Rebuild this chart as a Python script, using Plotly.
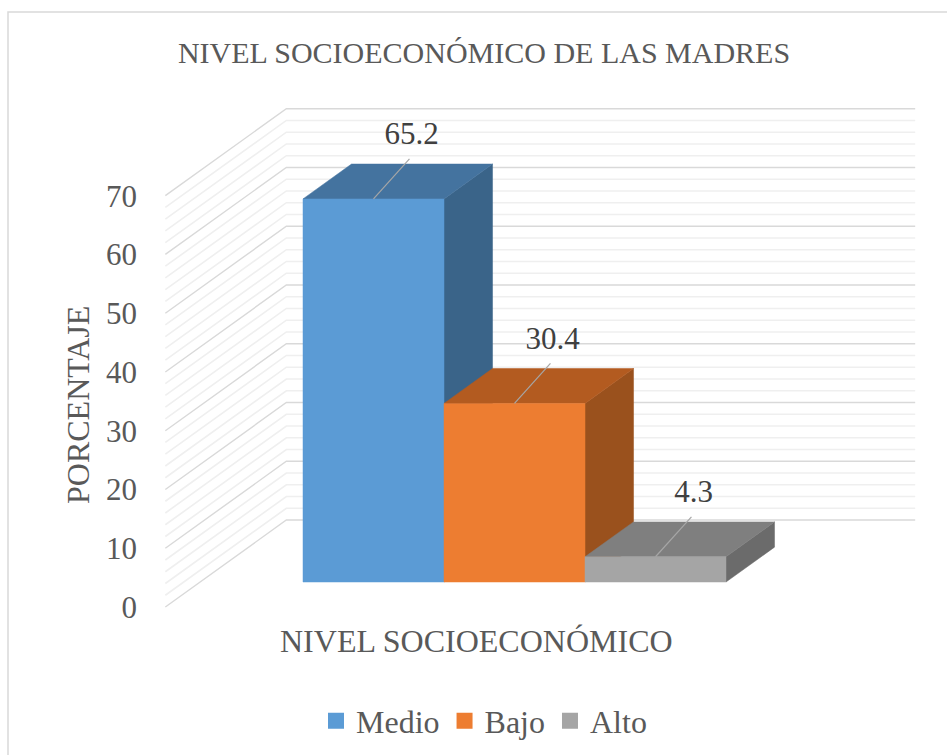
import plotly.graph_objects as go

# ---------------- data ----------------
categories = ["Medio", "Bajo", "Alto"]
values = [65.2, 30.4, 4.3]
value_labels = ["65.2", "30.4", "4.3"]
y_ticks = [0, 10, 20, 30, 40, 50, 60, 70]
y_tick_labels = ["0", "10", "20", "30", "40", "50", "60", "70"]
chart_title = "NIVEL SOCIOECONÓMICO DE LAS MADRES"
x_title = "NIVEL SOCIOECONÓMICO"
y_title = "PORCENTAJE"

# ---------------- style ----------------
front_colors = ["#5B9BD5", "#ED7D31", "#A5A5A5"]
top_colors = ["#44739F", "#B35B20", "#7F7F7F"]
side_colors = ["#3A6489", "#9A511D", "#6B6B6B"]
TEXT = "#595959"
FONT = "Liberation Serif, Times New Roman, serif"

W, H = 947, 755
PX_X = 141.0      # pixels per category unit
PX_Y = 5.876      # pixels per percent unit
X0_PX = 303       # pixel column of first bar's front-left edge
Y0_PX = 607       # pixel row of front-plane zero
DX = 121 / PX_X   # depth offset (x) in category units
DY = 87 / PX_Y    # depth offset (y) in percent units
D0, D1 = 0.287, 0.688   # bar depth span (fraction of floor depth)
GAP = 0.73
Y_MAX = 70
MAJOR, MINOR = 10, 2
PL, PR, PT, PB = 150, 930, 95, 645   # plot area in pixels


def proj(x, v, d):
    return (x + DX * (d - D0), v + DY * d)


def px2paper(px, py):
    return ((px - PL) / (PR - PL), (PB - py) / (PB - PT))


fig = go.Figure()

# ---------- wall gridlines ----------
n = len(categories)
for major in (False, True):
    xs, ys = [], []
    for v in range(0, Y_MAX + 1, MINOR):
        if (v % MAJOR == 0) != major:
            continue
        for p in (proj(-GAP, v, 0), proj(-GAP, v, 1), proj(n + GAP, v, 1)):
            xs.append(p[0]); ys.append(p[1])
        xs.append(None); ys.append(None)
    fig.add_trace(go.Scatter(
        x=xs, y=ys, mode="lines", hoverinfo="skip", showlegend=False,
        line=dict(color="#D9D9D9" if major else "#EFEFEF", width=1.4 if major else 1.6)))

# ---------- 3D bars ----------
def poly(pts, color):
    xs = [p[0] for p in pts] + [pts[0][0]]
    ys = [p[1] for p in pts] + [pts[0][1]]
    fig.add_trace(go.Scatter(
        x=xs, y=ys, mode="lines", fill="toself", fillcolor=color,
        line=dict(color=color, width=0.5), hoverinfo="skip", showlegend=False))

for i, (cat, v) in enumerate(zip(categories, values)):
    side = [proj(i + 1, 0, D0), proj(i + 1, 0, D1), proj(i + 1, v, D1), proj(i + 1, v, D0)]
    top = [proj(i, v, D0), proj(i + 1, v, D0), proj(i + 1, v, D1), proj(i, v, D1)]
    front = [proj(i, 0, D0), proj(i + 1, 0, D0), proj(i + 1, v, D0), proj(i, v, D0)]
    poly(side, side_colors[i])
    poly(top, top_colors[i])
    poly(front, front_colors[i])

# ---------- data labels with leader lines ----------
LX, LY = 0.255, 6.8
TX, TY = 0.27, 10.6
for i, (v, lab) in enumerate(zip(values, value_labels)):
    sx, sy = proj(i + 0.5, v, D0)
    fig.add_trace(go.Scatter(
        x=[sx, sx + LX], y=[sy, sy + LY], mode="lines", hoverinfo="skip",
        showlegend=False, line=dict(color="#A6A6A6", width=1.2)))
    fig.add_trace(go.Scatter(
        x=[sx + TX], y=[sy + TY], mode="text", text=[lab], textposition="middle center",
        textfont=dict(family=FONT, size=31, color="#404040"),
        hoverinfo="skip", showlegend=False))

# ---------- legend entries ----------
for cat, c in zip(categories, front_colors):
    fig.add_trace(go.Scatter(
        x=[None], y=[None], mode="markers", name=cat,
        marker=dict(symbol="square", size=16, color=c)))

# ---------- layout ----------
lx, ly = px2paper(484, 721)
xt, yt = px2paper(476, 641)
yx, yy = px2paper(78, 405)
b0 = px2paper(8, 12)
b1 = px2paper(985, 775)

fig.update_layout(
    width=W, height=H,
    margin=dict(l=PL, r=W - PR, t=PT, b=H - PB, autoexpand=False),
    paper_bgcolor="white", plot_bgcolor="white",
    font=dict(family=FONT, color=TEXT),
    title=dict(text=chart_title, x=484 / W, y=1 - 52 / H, xref="container", yref="container",
               xanchor="center", yanchor="middle",
               font=dict(family=FONT, size=30, color=TEXT)),
    xaxis=dict(range=[(PL - X0_PX) / PX_X, (PR - X0_PX) / PX_X], visible=False, fixedrange=True),
    yaxis=dict(range=[(Y0_PX - PB) / PX_Y, (Y0_PX - PT) / PX_Y],
               tickvals=y_ticks, ticktext=y_tick_labels, showgrid=False, zeroline=False,
               showline=False, ticks="", ticklabelstandoff=12,
               tickfont=dict(family=FONT, size=31, color=TEXT), fixedrange=True),
    legend=dict(orientation="h", x=lx, y=ly, xanchor="center", yanchor="middle",
                font=dict(family=FONT, size=32, color=TEXT), bgcolor="rgba(0,0,0,0)",
                itemclick=False, itemdoubleclick=False),
    annotations=[
        dict(text=x_title, x=xt, y=yt, xref="paper", yref="paper", showarrow=False,
             xanchor="center", yanchor="middle", font=dict(family=FONT, size=32, color=TEXT)),
        dict(text=y_title, x=yx, y=yy, xref="paper", yref="paper", showarrow=False,
             textangle=-90, xanchor="center", yanchor="middle",
             font=dict(family=FONT, size=32, color=TEXT)),
    ],
    shapes=[dict(type="rect", xref="paper", yref="paper", x0=b0[0], y0=b0[1], x1=b1[0], y1=b1[1],
                 line=dict(color="#D9D9D9", width=1.5), layer="below")],
)

fig.write_html("out.html")
